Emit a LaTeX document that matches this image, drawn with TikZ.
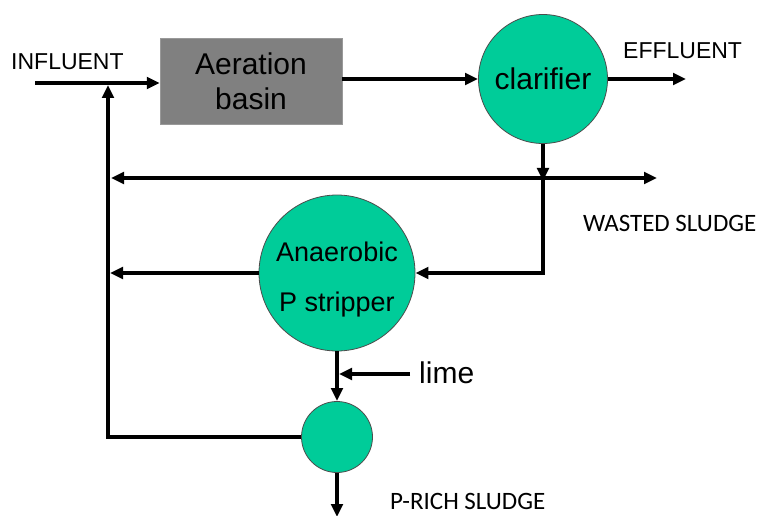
\documentclass[tikz,border=0pt]{standalone}
\usepackage{fontspec}
\setmainfont{Liberation Sans}
\newfontfamily\calfont{Carlito}
\usetikzlibrary{arrows.meta}
\definecolor{tankgreen}{RGB}{0,204,153}
\definecolor{basingray}{RGB}{128,128,128}
\tikzset{
  flow/.style={line width=3.8pt},
  arr/.style={flow,-{Triangle[length=13pt,width=11.5pt]}},
  arrboth/.style={flow,{Triangle[length=13pt,width=11.5pt]}-{Triangle[length=13pt,width=11.5pt]}},
  tank/.style={circle,fill=tankgreen,draw=black!70,line width=0.8pt,inner sep=0pt,align=center},
  basinbox/.style={rectangle,fill=basingray,draw=basingray!80,inner sep=0pt,align=center},
  arialtext/.style={inner sep=0pt,font=\fontsize{23}{27}\selectfont},
  calitext/.style={inner sep=0pt,font=\calfont\fontsize{25}{29}\selectfont},
}
\begin{document}
\begin{tikzpicture}[x=1pt,y=-1pt]
\useasboundingbox (0,0) rectangle (758,516);
% nodes
\node[basinbox,minimum width=182pt,minimum height=86pt,
      font=\fontsize{30}{35}\selectfont] (aer) at (251,81) {Aeration\\basin};
\node[tank,minimum size=129pt,font=\fontsize{30}{35}\selectfont] (clar) at (543,79) {clarifier};
\node[tank,minimum size=156pt] (ana) at (337,273) {};
\node[align=center,inner sep=0pt,font=\fontsize{27}{50}\selectfont] (anatext) at (337,280) {Anaerobic\\P stripper};
\node[tank,minimum size=71pt] (mix) at (337,437) {};
\node[arialtext,anchor=west] (influent) at (11,62) {INFLUENT};
\node[arialtext,anchor=west] (effluent) at (623,51) {EFFLUENT};
\node[calitext,anchor=west] (wasted) at (583,223) {WASTED SLUDGE};
\node[inner sep=0pt,anchor=base west,font=\fontsize{30}{35}\selectfont] (lime) at (419,383) {lime};
\node[calitext,anchor=base west] (prich) at (390,509) {P-RICH SLUDGE};
% coordinates
\coordinate (inS) at (35,83);
\coordinate (recTop) at (108,85);
\coordinate (effEnd) at (686,79);
\coordinate (junc) at (543,178);
\coordinate (retL) at (111,178);
\coordinate (wasR) at (657,178);
\coordinate (anaL) at (110,273);
\coordinate (limeS) at (410,374);
\coordinate (limeT) at (339,374);
\coordinate (sludgeEnd) at (337,517);
% connectors
\draw[arr] (inS) -- (inS -| aer.west);
\draw[arr] (aer.east |- clar.west) -- (clar.west);
\draw[arr] (clar.east) -- (effEnd);
\draw[arr] (clar.south) -- ([yshift=-3pt]junc);
\draw[arrboth] (retL) -- (wasR);
\draw[arr] (junc) |- (ana.east);
\draw[arr] (ana.west) -- (anaL);
\draw[arr] (ana.south) -- (mix.north);
\draw[arr] (limeS) -- (limeT);
\draw[arr] (mix.west) -- (mix.west -| recTop) -- (recTop);
\draw[arr] (mix.south) -- (sludgeEnd);
\end{tikzpicture}
\end{document}
